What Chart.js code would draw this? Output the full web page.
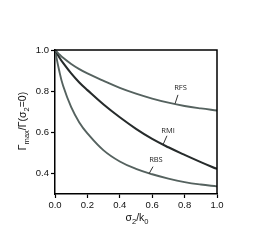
<!DOCTYPE html>
<html><head><meta charset="utf-8">
<script src="https://cdn.jsdelivr.net/npm/chart.js@4"></script>
<style>html,body{margin:0;padding:0;background:#fff}canvas{display:block}</style>
</head><body>
<canvas id="c" width="273" height="244"></canvas>
<script>
const xValues = [0, 0.025, 0.05, 0.1, 0.15, 0.2, 0.3, 0.4, 0.5, 0.6, 0.7, 0.8, 0.9, 1.0];
const rfs = [1.0, 0.98, 0.962, 0.932, 0.907, 0.886, 0.85, 0.816, 0.788, 0.764, 0.744, 0.728, 0.716, 0.706];
const rmi = [1.0, 0.966, 0.937, 0.886, 0.842, 0.805, 0.735, 0.673, 0.617, 0.568, 0.527, 0.49, 0.455, 0.422];
const rbs = [1.0, 0.903, 0.826, 0.722, 0.648, 0.595, 0.512, 0.458, 0.422, 0.396, 0.375, 0.358, 0.346, 0.337];
const xTicks = [0, 0.2, 0.4, 0.6, 0.8, 1.0];
const yTicks = [0.4, 0.6, 0.8, 1.0];
const seriesNames = ['RFS', 'RMI', 'RBS'];
// label text anchor and leader line (data units)
const labelAt = {RFS: [0.775, 0.815], RMI: [0.698, 0.608], RBS: [0.623, 0.467]};
const leaderFrom = {RFS: [0.741, 0.739], RMI: [0.667, 0.540], RBS: [0.580, 0.398]};
const leaderTo = {RFS: [0.759, 0.782], RMI: [0.691, 0.583], RBS: [0.605, 0.433]};

const colors = {RFS: '#55625f', RMI: '#262b2b', RBS: '#55625f'};
const vals = {RFS: rfs, RMI: rmi, RBS: rbs};
const FONT = '"Liberation Sans", Arial, sans-serif';
const LFONT = '"Open Sans", "Noto Sans", sans-serif';

const decor = {
  id: 'decor',
  afterDraw(chart) {
    const ctx = chart.ctx, a = chart.chartArea, xs = chart.scales.x, ys = chart.scales.y;
    ctx.save();
    ctx.strokeStyle = '#000'; ctx.lineWidth = 1.5;
    ctx.beginPath();
    ctx.moveTo(a.left, a.top); ctx.lineTo(a.right, a.top); ctx.lineTo(a.right, a.bottom);
    ctx.stroke();
    ctx.font = '7.5px ' + LFONT; ctx.fillStyle = '#222'; ctx.textAlign = 'center'; ctx.textBaseline = 'middle';
    ctx.lineWidth = 1; ctx.strokeStyle = '#333';
    seriesNames.forEach(n => {
      ctx.fillText(n, xs.getPixelForValue(labelAt[n][0]), ys.getPixelForValue(labelAt[n][1]));
      ctx.beginPath();
      ctx.moveTo(xs.getPixelForValue(leaderFrom[n][0]), ys.getPixelForValue(leaderFrom[n][1]));
      ctx.lineTo(xs.getPixelForValue(leaderTo[n][0]), ys.getPixelForValue(leaderTo[n][1]));
      ctx.stroke();
    });
    function richWidth(parts, size) {
      let w = 0;
      parts.forEach(p => { ctx.font = (p[1] ? size * 0.72 : size) + 'px ' + FONT; w += ctx.measureText(p[0]).width; });
      return w;
    }
    function drawRich(parts, size, cx, cy) {
      ctx.textAlign = 'left'; ctx.textBaseline = 'alphabetic'; ctx.fillStyle = '#111';
      const w = richWidth(parts, size);
      let x = cx - w / 2;
      const base = cy + size * 0.35;
      parts.forEach(p => {
        ctx.font = (p[1] ? size * 0.72 : size) + 'px ' + FONT;
        ctx.fillText(p[0], x, p[1] ? base + size * 0.3 : base);
        x += ctx.measureText(p[0]).width;
      });
    }
    drawRich([['σ', 0], ['2', 1], ['/k', 0], ['0', 1]], 10.5, 137, 217);
    ctx.save();
    ctx.translate(22, 121); ctx.rotate(-Math.PI / 2);
    drawRich([['Γ', 0], ['max', 1], ['/Γ(σ', 0], ['2', 1], ['=0)', 0]], 10.5, 0, 0);
    ctx.restore();
    ctx.restore();
  }
};

new Chart(document.getElementById('c'), {
  type: 'line',
  data: {
    datasets: seriesNames.map(n => ({
      label: n,
      data: xValues.map((x, i) => ({x: x, y: vals[n][i]})),
      borderColor: colors[n],
      borderWidth: n === 'RMI' ? 2.1 : 1.9,
      pointRadius: 0,
      fill: false,
      tension: 0.4
    }))
  },
  options: {
    responsive: false,
    animation: false,
    devicePixelRatio: 1,
    layout: {padding: {top: 50, right: 56, left: 0, bottom: 0}},
    plugins: {legend: {display: false}, tooltip: {enabled: false}},
    scales: {
      x: {
        type: 'linear', min: 0, max: 1,
        afterBuildTicks: s => { s.ticks = xTicks.map(v => ({value: v})); },
        afterFit: s => { s.height = 50; },
        grid: {drawOnChartArea: false, drawTicks: true, tickLength: 4, color: '#000', tickWidth: 1.2},
        border: {display: true, color: '#000', width: 1.5},
        ticks: {color: '#111', font: {family: FONT, size: 9.5}, padding: 2, maxRotation: 0,
                callback: v => Number(v).toFixed(1)}
      },
      y: {
        type: 'linear', min: 0.3, max: 1.0,
        afterBuildTicks: s => { s.ticks = yTicks.map(v => ({value: v})); },
        afterFit: s => { s.width = 55; },
        grid: {drawOnChartArea: false, drawTicks: true, tickLength: 4, color: '#000', tickWidth: 1.2},
        border: {display: true, color: '#000', width: 1.5},
        ticks: {color: '#111', font: {family: FONT, size: 9.5}, padding: 2,
                callback: v => Number(v).toFixed(1)}
      }
    }
  },
  plugins: [decor]
});
</script>
</body></html>
